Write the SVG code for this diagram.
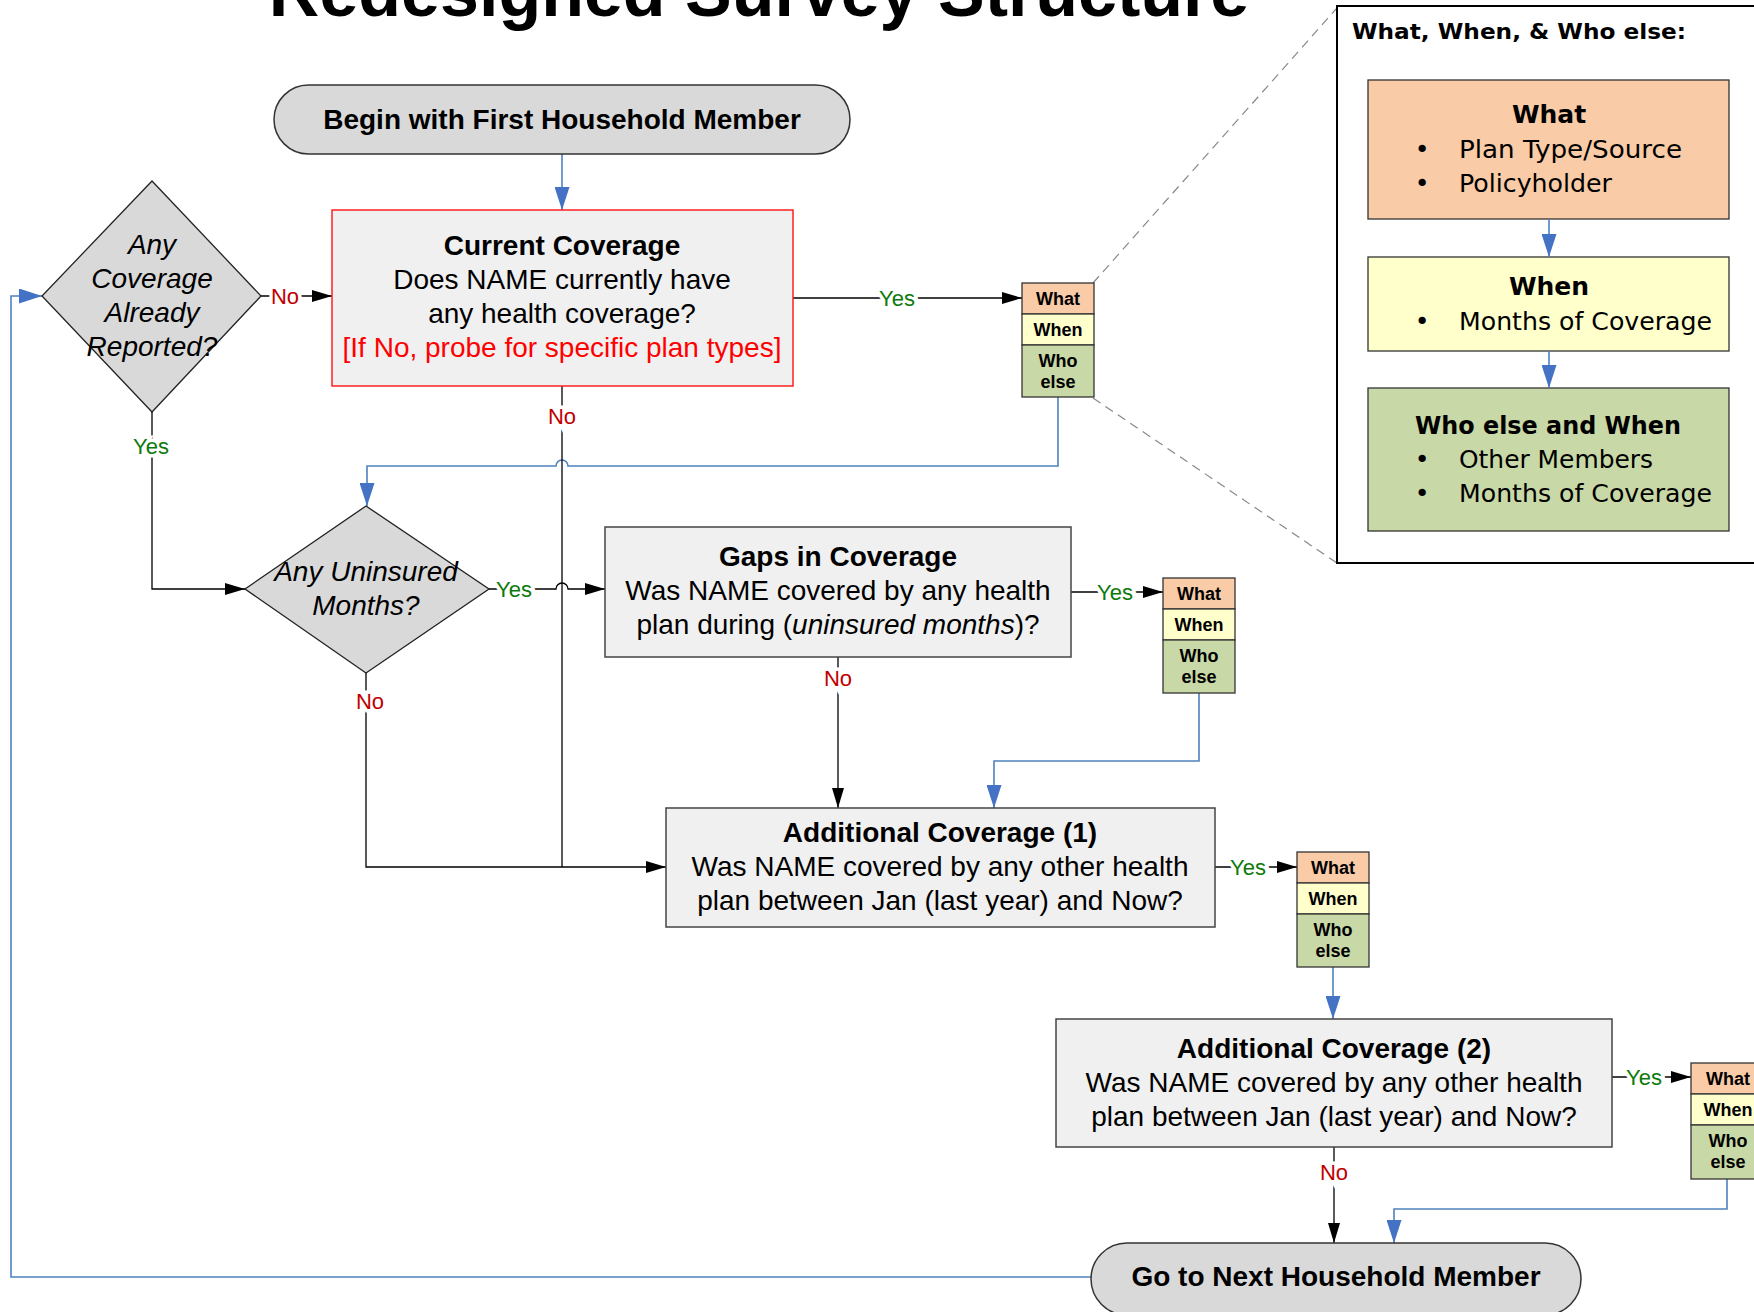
<svg xmlns="http://www.w3.org/2000/svg" width="1754" height="1312" viewBox="0 0 1754 1312">
<style>
.t{font-family:"Liberation Sans",Arial,sans-serif;font-size:28px;text-anchor:middle;fill:#000}
.b{font-weight:bold}
.i{font-style:italic}
.v{font-family:"DejaVu Sans",Verdana,sans-serif;font-size:25px;fill:#000}
.proc{fill:#f0f0f0;stroke:#444;stroke-width:1.5}
.dec{fill:#d9d9d9;stroke:#222;stroke-width:1.3}
.pill{fill:#d9d9d9;stroke:#333;stroke-width:1.5}
.ln{fill:none;stroke:#000;stroke-width:1.3}
.bl{fill:none;stroke:#4f81bd;stroke-width:1.6}
.dash{fill:none;stroke:#888;stroke-width:1.2;stroke-dasharray:9,6}
.lbl{font-family:"Liberation Sans",Arial,sans-serif;font-size:22px;text-anchor:middle;paint-order:stroke;stroke:#fff;stroke-width:7px}
.yes{fill:#0b7a0b}
.no{fill:#c00000}
.sw{fill:#f9cba7;stroke:#333;stroke-width:1.3}
.sn{fill:#ffffcc;stroke:#333;stroke-width:1.3}
.so{fill:#c8d8a6;stroke:#333;stroke-width:1.3}
.st{font-family:"Liberation Sans",Arial,sans-serif;font-size:18px;font-weight:bold;text-anchor:middle;fill:#000}
</style>
<defs>
<marker id="ab" viewBox="0 0 20 12" refX="20" refY="6" markerWidth="20" markerHeight="12" markerUnits="userSpaceOnUse" orient="auto"><path d="M0,0 L20,6 L0,12 z" fill="#000"/></marker>
<marker id="abl" viewBox="0 0 23 15" refX="23" refY="7.5" markerWidth="23" markerHeight="15" markerUnits="userSpaceOnUse" orient="auto"><path d="M0,0 L23,7.5 L0,15 z" fill="#4472c4"/></marker>
</defs>
<rect width="1754" height="1312" fill="#fff"/>
<text class="t b" x="759" y="16" style="font-size:70px">Redesigned Survey Structure</text>

<g id="connectors">
<path class="dash" d="M1093,283 L1337,8"/>
<path class="dash" d="M1093,398 L1337,563"/>
<path class="bl" d="M562,154 V210" marker-end="url(#abl)"/>
<path class="bl" d="M1091,1277 H11 V296 H42" marker-end="url(#abl)"/>
<path class="bl" d="M1058,397 V466 H568 A6,6 0 0 0 556,466 H367 V506" marker-end="url(#abl)"/>
<path class="bl" d="M1199,693 V761 H994 V808" marker-end="url(#abl)"/>
<path class="bl" d="M1333,967 V1019" marker-end="url(#abl)"/>
<path class="bl" d="M1727,1179 V1209 H1394 V1243" marker-end="url(#abl)"/>
<path class="ln" d="M261,296 H332" marker-end="url(#ab)"/>
<path class="ln" d="M793,298 H1022" marker-end="url(#ab)"/>
<path class="ln" d="M562,386 V867"/>
<path class="ln" d="M152,412 V589 H245" marker-end="url(#ab)"/>
<path class="ln" d="M489,589 H556 A6,6 0 0 1 568,589 H605" marker-end="url(#ab)"/>
<path class="ln" d="M366,673 V867 H666" marker-end="url(#ab)"/>
<path class="ln" d="M1071,592 H1163" marker-end="url(#ab)"/>
<path class="ln" d="M838,657 V808" marker-end="url(#ab)"/>
<path class="ln" d="M1215,867 H1297" marker-end="url(#ab)"/>
<path class="ln" d="M1612,1077 H1691" marker-end="url(#ab)"/>
<path class="ln" d="M1334,1147 V1243" marker-end="url(#ab)"/>
<text class="lbl no" x="285" y="304">No</text>
<text class="lbl yes" x="897" y="306">Yes</text>
<text class="lbl no" x="562" y="424">No</text>
<text class="lbl yes" x="151" y="454">Yes</text>
<text class="lbl yes" x="514" y="597">Yes</text>
<text class="lbl no" x="370" y="709">No</text>
<text class="lbl yes" x="1115" y="600">Yes</text>
<text class="lbl no" x="838" y="686">No</text>
<text class="lbl yes" x="1248" y="875">Yes</text>
<text class="lbl yes" x="1644" y="1085">Yes</text>
<text class="lbl no" x="1334" y="1180">No</text>
</g>

<g id="begin">
<rect class="pill" x="274" y="85" width="576" height="69" rx="34.5"/>
<text class="t b" x="562" y="129">Begin with First Household Member</text>
</g>

<g id="any-coverage">
<polygon class="dec" points="152,181 261,296 152,412 42,296"/>
<text class="t i" x="152" y="254">Any</text>
<text class="t i" x="152" y="288">Coverage</text>
<text class="t i" x="152" y="322">Already</text>
<text class="t i" x="152" y="356">Reported?</text>
</g>

<g id="current-coverage">
<rect x="332" y="210" width="461" height="176" fill="#f0f0f0" stroke="#ff2020" stroke-width="1.5"/>
<text class="t b" x="562" y="255">Current Coverage</text>
<text class="t" x="562" y="289">Does NAME currently have</text>
<text class="t" x="562" y="323">any health coverage?</text>
<text class="t" x="562" y="357" style="fill:#ff0000">[If No, probe for specific plan types]</text>
</g>

<g id="stack1" transform="translate(1022,283)">
<rect class="sw" x="0" y="0" width="72" height="31"/>
<rect class="sn" x="0" y="31" width="72" height="31"/>
<rect class="so" x="0" y="62" width="72" height="52"/>
<text class="st" x="36" y="22">What</text>
<text class="st" x="36" y="53">When</text>
<text class="st" x="36" y="84">Who</text>
<text class="st" x="36" y="105">else</text>
</g>

<g id="uninsured">
<polygon class="dec" points="366,506 489,589 366,673 245,589"/>
<text class="t i" x="366" y="581">Any Uninsured</text>
<text class="t i" x="366" y="615">Months?</text>
</g>

<g id="gaps">
<rect class="proc" x="605" y="527" width="466" height="130"/>
<text class="t b" x="838" y="566">Gaps in Coverage</text>
<text class="t" x="838" y="600">Was NAME covered by any health</text>
<text class="t" x="838" y="634">plan during (<tspan class="i">uninsured months</tspan>)?</text>
</g>

<g id="stack2" transform="translate(1163,578)">
<rect class="sw" x="0" y="0" width="72" height="31"/>
<rect class="sn" x="0" y="31" width="72" height="31"/>
<rect class="so" x="0" y="62" width="72" height="53"/>
<text class="st" x="36" y="22">What</text>
<text class="st" x="36" y="53">When</text>
<text class="st" x="36" y="84">Who</text>
<text class="st" x="36" y="105">else</text>
</g>

<g id="additional1">
<rect class="proc" x="666" y="808" width="549" height="119"/>
<text class="t b" x="940" y="842">Additional Coverage (1)</text>
<text class="t" x="940" y="876">Was NAME covered by any other health</text>
<text class="t" x="940" y="910">plan between Jan (last year) and Now?</text>
</g>

<g id="stack3" transform="translate(1297,852)">
<rect class="sw" x="0" y="0" width="72" height="31"/>
<rect class="sn" x="0" y="31" width="72" height="31"/>
<rect class="so" x="0" y="62" width="72" height="53"/>
<text class="st" x="36" y="22">What</text>
<text class="st" x="36" y="53">When</text>
<text class="st" x="36" y="84">Who</text>
<text class="st" x="36" y="105">else</text>
</g>

<g id="additional2">
<rect class="proc" x="1056" y="1019" width="556" height="128"/>
<text class="t b" x="1334" y="1058">Additional Coverage (2)</text>
<text class="t" x="1334" y="1092">Was NAME covered by any other health</text>
<text class="t" x="1334" y="1126">plan between Jan (last year) and Now?</text>
</g>

<g id="stack4" transform="translate(1691,1063)">
<rect class="sw" x="0" y="0" width="74" height="31"/>
<rect class="sn" x="0" y="31" width="74" height="31"/>
<rect class="so" x="0" y="62" width="74" height="54"/>
<text class="st" x="37" y="22">What</text>
<text class="st" x="37" y="53">When</text>
<text class="st" x="37" y="84">Who</text>
<text class="st" x="37" y="105">else</text>
</g>

<g id="next">
<rect class="pill" x="1091" y="1243" width="490" height="72" rx="36"/>
<text class="t b" x="1336" y="1286">Go to Next Household Member</text>
</g>

<g id="legend">
<rect x="1337" y="6" width="440" height="557" fill="#fff" stroke="#000" stroke-width="2"/>
<text class="v" x="1352" y="39" style="font-size:21px;font-weight:bold" textLength="334" lengthAdjust="spacingAndGlyphs">What, When, &amp; Who else:</text>
<g id="legend-what">
<rect class="sw" x="1368" y="80" width="361" height="139"/>
<text class="v" x="1549" y="123" style="font-weight:bold;text-anchor:middle">What</text>
<text class="v" x="1422" y="158" style="text-anchor:middle">•</text>
<text class="v" x="1459" y="158" textLength="223" lengthAdjust="spacingAndGlyphs">Plan Type/Source</text>
<text class="v" x="1422" y="192" style="text-anchor:middle">•</text>
<text class="v" x="1459" y="192" textLength="153" lengthAdjust="spacingAndGlyphs">Policyholder</text>
</g>
<g id="legend-when">
<rect class="sn" x="1368" y="257" width="361" height="94"/>
<text class="v" x="1549" y="295" style="font-weight:bold;text-anchor:middle">When</text>
<text class="v" x="1422" y="330" style="text-anchor:middle">•</text>
<text class="v" x="1459" y="330" textLength="253" lengthAdjust="spacingAndGlyphs">Months of Coverage</text>
</g>
<g id="legend-who">
<rect class="so" x="1368" y="388" width="361" height="143"/>
<text class="v" x="1415" y="434" style="font-weight:bold" textLength="266" lengthAdjust="spacingAndGlyphs">Who else and When</text>
<text class="v" x="1422" y="468" style="text-anchor:middle">•</text>
<text class="v" x="1459" y="468" textLength="194" lengthAdjust="spacingAndGlyphs">Other Members</text>
<text class="v" x="1422" y="502" style="text-anchor:middle">•</text>
<text class="v" x="1459" y="502" textLength="253" lengthAdjust="spacingAndGlyphs">Months of Coverage</text>
</g>
<path class="bl" d="M1549,219 V257" marker-end="url(#abl)"/>
<path class="bl" d="M1549,351 V388" marker-end="url(#abl)"/>
</g>
</svg>
